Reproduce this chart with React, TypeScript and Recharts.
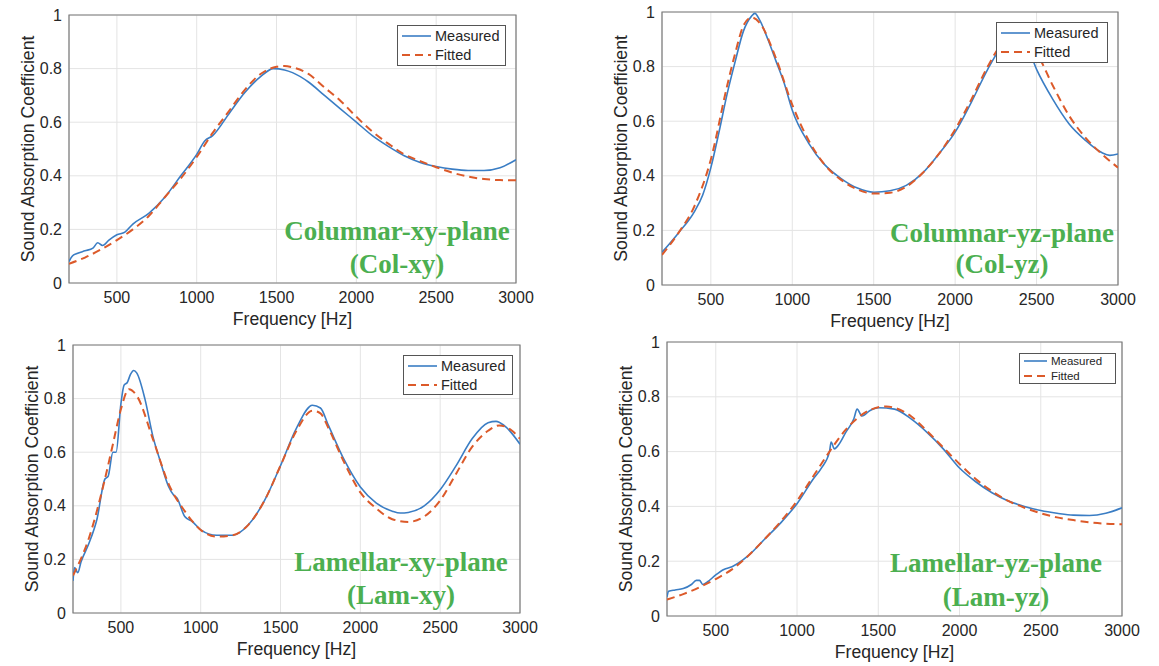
import React from 'react';
import { LineChart, Line, XAxis, YAxis, CartesianGrid, ReferenceArea } from 'recharts';

// frequency [Hz], absorption coefficient
const colXyMeasured = [
  [200, 0.08], [220, 0.1], [250, 0.11], [300, 0.12], [350, 0.13], [380, 0.15], [410, 0.14], [450, 0.16],
  [500, 0.18], [550, 0.19], [600, 0.22], [700, 0.26], [800, 0.32], [900, 0.4], [1000, 0.48], [1050, 0.53],
  [1100, 0.55], [1200, 0.63], [1300, 0.71], [1400, 0.77], [1480, 0.8], [1550, 0.795], [1600, 0.785],
  [1700, 0.75], [1800, 0.7], [1900, 0.65], [2000, 0.6], [2100, 0.55], [2200, 0.51], [2300, 0.475],
  [2400, 0.45], [2500, 0.435], [2600, 0.425], [2700, 0.42], [2800, 0.42], [2900, 0.43], [3000, 0.46],
];
const colXyFitted = [
  [200, 0.072], [300, 0.095], [400, 0.125], [500, 0.16], [600, 0.2], [700, 0.25], [800, 0.32], [900, 0.39],
  [1000, 0.47], [1100, 0.56], [1200, 0.64], [1300, 0.72], [1400, 0.78], [1500, 0.807], [1550, 0.81],
  [1600, 0.805], [1700, 0.78], [1800, 0.73], [1900, 0.68], [2000, 0.62], [2100, 0.565], [2200, 0.52],
  [2300, 0.48], [2400, 0.455], [2500, 0.432], [2600, 0.412], [2700, 0.397], [2800, 0.388], [2900, 0.384],
  [3000, 0.383],
];

const colYzMeasured = [
  [200, 0.12], [300, 0.19], [400, 0.27], [450, 0.33], [500, 0.43], [550, 0.56], [600, 0.7], [650, 0.82],
  [700, 0.93], [750, 0.985], [770, 0.995], [800, 0.97], [850, 0.9], [900, 0.82], [950, 0.74], [1000, 0.64],
  [1100, 0.52], [1200, 0.44], [1300, 0.39], [1400, 0.355], [1500, 0.34], [1600, 0.345], [1700, 0.365],
  [1800, 0.41], [1900, 0.48], [2000, 0.56], [2100, 0.67], [2200, 0.79], [2270, 0.86], [2350, 0.9],
  [2450, 0.86], [2500, 0.79], [2600, 0.68], [2700, 0.59], [2800, 0.53], [2900, 0.485], [2950, 0.475],
  [3000, 0.48],
];
const colYzFitted = [
  [200, 0.11], [300, 0.19], [400, 0.29], [500, 0.46], [600, 0.73], [650, 0.85], [700, 0.95], [750, 0.98],
  [800, 0.96], [900, 0.83], [1000, 0.66], [1100, 0.53], [1200, 0.44], [1300, 0.385], [1400, 0.35],
  [1500, 0.335], [1600, 0.338], [1700, 0.36], [1800, 0.41], [1900, 0.48], [2000, 0.57], [2100, 0.68],
  [2200, 0.8], [2300, 0.89], [2400, 0.91], [2500, 0.85], [2600, 0.73], [2700, 0.62], [2800, 0.54],
  [2900, 0.48], [3000, 0.43],
];

const lamXyMeasured = [
  [200, 0.12], [210, 0.17], [230, 0.15], [250, 0.19], [300, 0.26], [350, 0.35], [400, 0.5], [420, 0.51],
  [450, 0.6], [470, 0.6], [500, 0.78], [520, 0.85], [540, 0.86], [560, 0.89], [580, 0.905], [600, 0.895],
  [650, 0.8], [700, 0.66], [750, 0.56], [800, 0.47], [830, 0.44], [850, 0.43], [900, 0.36], [950, 0.34],
  [1000, 0.31], [1100, 0.29], [1200, 0.29], [1300, 0.33], [1400, 0.42], [1500, 0.55], [1600, 0.69],
  [1700, 0.775], [1750, 0.765], [1800, 0.7], [1900, 0.57], [2000, 0.47], [2100, 0.41], [2200, 0.38],
  [2250, 0.373], [2300, 0.375], [2400, 0.4], [2500, 0.46], [2600, 0.55], [2700, 0.65], [2800, 0.71],
  [2850, 0.715], [2900, 0.7], [3000, 0.63],
];
const lamXyFitted = [
  [200, 0.14], [300, 0.28], [400, 0.5], [450, 0.63], [500, 0.76], [550, 0.835], [600, 0.81], [700, 0.65],
  [800, 0.48], [900, 0.38], [1000, 0.31], [1100, 0.285], [1200, 0.29], [1300, 0.33], [1400, 0.42],
  [1500, 0.55], [1600, 0.68], [1700, 0.755], [1750, 0.745], [1800, 0.69], [1900, 0.56], [2000, 0.45],
  [2100, 0.39], [2200, 0.35], [2300, 0.34], [2400, 0.36], [2500, 0.42], [2600, 0.52], [2700, 0.62],
  [2800, 0.68], [2870, 0.7], [2950, 0.68], [3000, 0.65],
];

const lamYzMeasured = [
  [200, 0.07], [210, 0.09], [250, 0.095], [300, 0.1], [350, 0.115], [380, 0.13], [400, 0.13], [420, 0.115],
  [450, 0.125], [500, 0.15], [550, 0.17], [600, 0.18], [700, 0.22], [800, 0.28], [900, 0.34], [1000, 0.41],
  [1100, 0.5], [1150, 0.54], [1200, 0.6], [1210, 0.635], [1230, 0.61], [1250, 0.62], [1300, 0.67],
  [1350, 0.72], [1370, 0.755], [1400, 0.73], [1450, 0.75], [1500, 0.76], [1600, 0.755], [1700, 0.72],
  [1800, 0.67], [1900, 0.61], [2000, 0.54], [2100, 0.49], [2200, 0.45], [2300, 0.42], [2400, 0.4],
  [2500, 0.385], [2600, 0.375], [2700, 0.368], [2800, 0.367], [2900, 0.375], [3000, 0.395],
];
const lamYzFitted = [
  [200, 0.06], [300, 0.08], [400, 0.105], [500, 0.135], [600, 0.17], [700, 0.22], [800, 0.28], [900, 0.345],
  [1000, 0.42], [1100, 0.51], [1200, 0.6], [1300, 0.68], [1400, 0.735], [1500, 0.762], [1550, 0.765],
  [1600, 0.76], [1700, 0.73], [1800, 0.675], [1900, 0.615], [2000, 0.555], [2100, 0.5], [2200, 0.455],
  [2300, 0.42], [2400, 0.395], [2500, 0.375], [2600, 0.36], [2700, 0.35], [2800, 0.342], [2900, 0.337],
  [3000, 0.335],
];

const xTicks = [500, 1000, 1500, 2000, 2500, 3000];
const yTicks = [0, 0.2, 0.4, 0.6, 0.8, 1];
const seriesNames = ['Measured', 'Fitted'];

const BLUE = '#3a7dc4';
const ORANGE = '#dc5a2a';
const GREEN = '#4caf50';
const FONT = '"Liberation Sans", Arial, Helvetica, sans-serif';

const toRows = (pts: number[][]) => pts.map(([f, a]) => ({ f, a }));

const panels = [
  {
    plot: { x: 69, y: 15, w: 447, h: 268 },
    measured: colXyMeasured, fitted: colXyFitted,
    title: ['Columnar-xy-plane', '(Col-xy)'], titleX: 397, titleY: [231, 264],
    legend: { x: 397, y: 25, w: 109, h: 41, font: 14.5 },
  },
  {
    plot: { x: 662, y: 12, w: 456, h: 273 },
    measured: colYzMeasured, fitted: colYzFitted,
    title: ['Columnar-yz-plane', '(Col-yz)'], titleX: 1002, titleY: [233, 264],
    legend: { x: 996, y: 22, w: 112, h: 41, font: 14.5 },
  },
  {
    plot: { x: 73, y: 345, w: 447, h: 268 },
    measured: lamXyMeasured, fitted: lamXyFitted,
    title: ['Lamellar-xy-plane', '(Lam-xy)'], titleX: 401, titleY: [562, 595],
    legend: { x: 403, y: 355, w: 110, h: 40, font: 14.5 },
  },
  {
    plot: { x: 667, y: 342, w: 455, h: 274 },
    measured: lamYzMeasured, fitted: lamYzFitted,
    title: ['Lamellar-yz-plane', '(Lam-yz)'], titleX: 996, titleY: [563, 597],
    legend: { x: 1019, y: 353, w: 97, h: 31, font: 11.5 },
  },
];

const PAD_L = 69;
const PAD_T = 15;
const PAD_R = 30;
const X_AXIS_H = 50;
const Y_AXIS_W = 50;

function Panel({ p }: { p: (typeof panels)[number] }) {
  const { plot } = p;
  const width = plot.w + PAD_L + PAD_R;
  const height = plot.h + PAD_T + X_AXIS_H;
  const tickStyle = { fill: '#262626', fontSize: 16, fontFamily: FONT };
  return (
    <div style={{ position: 'absolute', left: plot.x - PAD_L, top: plot.y - PAD_T }}>
      <LineChart
        width={width}
        height={height}
        margin={{ top: PAD_T, left: PAD_L - Y_AXIS_W, right: PAD_R, bottom: 0 }}
      >
        <CartesianGrid stroke="#e4e4e4" strokeWidth={1} />
        <XAxis
          type="number"
          dataKey="f"
          domain={[200, 3000]}
          ticks={xTicks}
          allowDataOverflow
          height={X_AXIS_H}
          tickLine={false}
          axisLine={false}
          tickSize={0}
          tickMargin={9}
          tick={tickStyle}
          label={{
            value: 'Frequency [Hz]',
            position: 'insideBottom',
            offset: 8,
            style: { fill: '#262626', fontSize: 17.6, fontFamily: FONT },
          }}
        />
        <YAxis
          type="number"
          domain={[0, 1]}
          ticks={yTicks}
          allowDataOverflow
          width={Y_AXIS_W}
          tickLine={false}
          axisLine={false}
          tickSize={0}
          tickMargin={7}
          tick={tickStyle}
          label={{
            value: 'Sound Absorption Coefficient',
            angle: -90,
            position: 'insideLeft',
            offset: 9,
            style: { textAnchor: 'middle', fill: '#262626', fontSize: 17.6, fontFamily: FONT },
          }}
        />
        <ReferenceArea x1={200} x2={3000} y1={0} y2={1} fill="none" stroke="#7a7a7a" strokeWidth={1.2} ifOverflow="visible" />
        <Line
          data={toRows(p.measured)}
          dataKey="a"
          type="monotone"
          stroke={BLUE}
          strokeWidth={1.6}
          dot={false}
          activeDot={false}
          isAnimationActive={false}
          name={seriesNames[0]}
        />
        <Line
          data={toRows(p.fitted)}
          dataKey="a"
          type="monotone"
          stroke={ORANGE}
          strokeWidth={2}
          strokeDasharray="8 5"
          dot={false}
          activeDot={false}
          isAnimationActive={false}
          name={seriesNames[1]}
        />
      </LineChart>
    </div>
  );
}

function LegendBox({ l }: { l: (typeof panels)[number]['legend'] }) {
  const rowH = l.h / 2;
  const lineW = l.font * 2;
  return (
    <div
      style={{
        position: 'absolute', left: l.x, top: l.y, width: l.w, height: l.h,
        border: '1.2px solid #555', background: '#fff', boxSizing: 'border-box',
        fontFamily: FONT, fontSize: l.font, color: '#262626',
      }}
    >
      {seriesNames.map((name, i) => (
        <div key={name} style={{ display: 'flex', alignItems: 'center', height: rowH - 1, paddingLeft: 4 }}>
          <svg width={lineW} height={6} style={{ marginRight: 4 }}>
            <line
              x1={0} y1={3} x2={lineW} y2={3}
              stroke={i === 0 ? BLUE : ORANGE}
              strokeWidth={i === 0 ? 1.6 : 2}
              strokeDasharray={i === 0 ? undefined : '8 5'}
            />
          </svg>
          <span>{name}</span>
        </div>
      ))}
    </div>
  );
}

export default function App() {
  return (
    <div style={{ position: 'absolute', left: 0, top: 0, width: 1159, height: 666, background: '#fff', overflow: 'hidden' }}>
      {panels.map((p, i) => (
        <React.Fragment key={i}>
          <Panel p={p} />
          <LegendBox l={p.legend} />
          {p.title.map((t, j) => (
            <div
              key={t}
              style={{
                position: 'absolute', left: p.titleX - 150, width: 300, top: p.titleY[j] - 17, height: 34,
                lineHeight: '34px', textAlign: 'center', color: GREEN, fontWeight: 'bold',
                fontFamily: '"Liberation Serif", "Times New Roman", serif', fontSize: 27,
              }}
            >
              {t}
            </div>
          ))}
        </React.Fragment>
      ))}
    </div>
  );
}
